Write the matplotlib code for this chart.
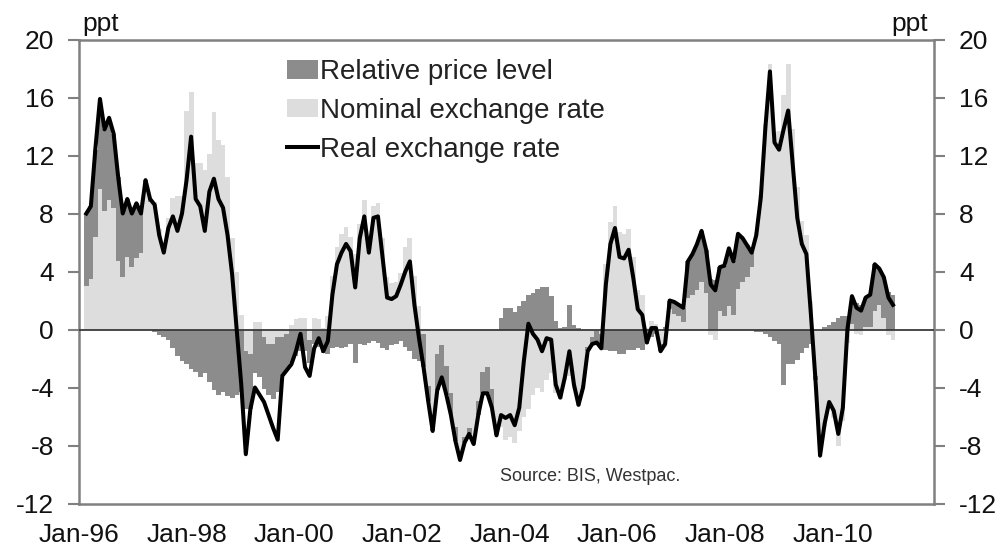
import matplotlib
matplotlib.use("Agg")
import matplotlib.pyplot as plt
from matplotlib.patches import Patch
from matplotlib.lines import Line2D
import numpy as np

plt.rcParams['font.family'] = ['Liberation Sans', 'DejaVu Sans']

# Monthly observations, Jan-1996 .. Oct-2010 (ppt)
real_rate = [
    8.0, 8.5, 12.5, 15.9, 13.8, 14.6, 13.5, 10.5, 8.0, 9.0, 8.0, 8.7,
    8.0, 10.3, 9.0, 8.6, 6.5, 5.3, 7.0, 7.8, 6.8, 8.0, 10.3, 13.3,
    9.0, 8.5, 6.8, 9.5, 10.4, 9.0, 8.4, 6.5, 3.8, 0.0, -3.8, -8.6,
    -5.5, -4.0, -4.5, -5.0, -5.9, -6.8, -7.6, -3.2, -2.8, -2.4, -1.5, -0.3,
    -2.6, -3.2, -1.3, -0.6, -1.5, -0.8, 2.4, 4.5, 5.3, 5.9, 5.4, 2.9,
    6.3, 7.8, 5.3, 7.7, 7.8, 5.0, 2.2, 2.1, 2.3, 3.1, 4.0, 4.7,
    1.7, -0.6, -2.6, -4.9, -7.0, -4.2, -3.3, -4.5, -5.9, -7.7, -9.0, -7.8,
    -7.2, -7.9, -5.9, -4.4, -4.4, -5.4, -7.3, -5.9, -6.1, -5.9, -6.6, -5.4,
    -2.2, 0.4, -0.3, -0.7, -1.5, -0.6, -0.7, -3.8, -4.7, -3.3, -1.5, -3.8,
    -5.2, -4.0, -1.5, -1.0, -0.9, -1.3, 3.1, 5.9, 7.0, 5.0, 4.9, 5.5,
    3.6, 1.4, 1.0, -0.9, 0.1, 0.1, -1.5, -1.0, 2.0, 1.9, 1.7, 1.5,
    4.7, 5.2, 5.9, 6.8, 5.5, 3.1, 2.7, 4.3, 4.4, 5.6, 4.7, 6.6,
    6.3, 5.8, 5.3, 6.5, 9.1, 13.9, 17.8, 12.9, 12.4, 13.8, 15.1, 11.4,
    7.7, 5.9, 5.2, 1.0, -3.5, -8.7, -6.5, -5.0, -5.6, -7.2, -5.4, 0.0,
    2.3, 1.5, 1.3, 2.2, 2.4, 4.5, 4.2, 3.6, 2.2, 1.7,
]

relative_price = [
    5.0, 5.0, 6.0, 6.2, 5.6, 5.7, 5.1, 5.8, 4.4, 4.0, 3.7, 3.8,
    2.7, 0.8, 0.2, -0.2, -0.4, -0.5, -0.7, -1.3, -1.8, -2.2, -2.4, -2.7,
    -2.9, -3.3, -3.0, -3.6, -4.2, -4.5, -4.3, -4.6, -4.7, -4.5, -4.3, -4.0,
    -3.8, -3.0, -3.3, -3.6, -3.5, -3.8, -3.8, -2.7, -2.5, -2.3, -1.8, -1.5,
    -1.5, -1.6, -1.0, -1.2, -1.6, -1.7, -1.3, -1.2, -1.3, -1.2, -1.0, -2.3,
    -1.0, -1.1, -0.9, -0.8, -0.9, -1.3, -1.4, -1.1, -1.0, -0.8, -1.2, -1.5,
    -2.0, -2.2, -2.3, -1.0, -0.5, -2.5, -2.2, -2.0, -1.5, -1.0, -0.6, -0.4,
    -0.4, -0.3, -1.0, -1.5, -1.8, -1.3, -0.2, 0.8, 1.5, 1.5, 1.2, 1.6,
    2.0, 2.4, 2.5, 2.8, 2.9, 2.9, 2.3, 0.6, 0.1, 0.2, 1.7, 0.3,
    0.1, -0.2, -0.3, -0.5, -0.8, -1.0, -1.4, -1.5, -1.5, -1.7, -1.7, -1.4,
    -1.4, -1.3, -1.4, -1.0, -0.5, -0.3, -0.5, 0.2, 0.6, 0.8, 0.8, 1.0,
    2.5, 2.8, 3.2, 3.5, 3.0, 3.5, 3.4, 3.0, 3.5, 4.0, 3.7, 3.8,
    3.0, 2.2, 1.0, -0.2, -0.2, -0.3, -0.5, -0.8, -1.0, -3.8, -2.4, -2.4,
    -2.1, -1.6, -1.3, -1.0, -0.3, 0.0, 0.2, 0.3, 0.5, 0.8, 0.9, 0.9,
    1.9, 1.8, 1.7, 2.0, 2.2, 3.2, 2.5, 2.8, 2.6, 2.4,
]

nominal_rate = [
    3.0, 3.5, 6.4, 9.7, 8.2, 8.9, 8.4, 4.7, 3.6, 5.0, 4.3, 4.9,
    5.3, 9.5, 8.8, 8.8, 6.9, 5.8, 7.7, 9.1, 9.2, 9.2, 15.1, 16.4,
    11.5, 11.5, 11.0, 12.1, 15.0, 13.1, 12.7, 10.5, 6.3, 4.0, 1.0, -1.5,
    -1.7, 0.5, 0.5, -0.5, -1.0, -1.0, -0.5, -0.5, -0.3, 0.3, 0.7, 0.8,
    0.8, -0.7, 0.8, 0.7, 0.1, 0.9, 3.7, 5.7, 6.6, 7.1, 6.4, 5.2,
    7.3, 8.9, 6.2, 8.5, 8.7, 6.3, 3.6, 3.2, 3.3, 3.9, 5.7, 6.3,
    3.7, 1.6, -0.3, -3.9, -6.5, -1.7, -1.1, -2.5, -4.4, -6.7, -8.4, -7.4,
    -6.8, -7.6, -4.9, -2.9, -2.6, -4.1, -7.1, -6.7, -7.6, -7.4, -7.8, -7.0,
    -6.0, -5.5, -4.5, -4.0, -4.3, -3.5, -3.0, -4.4, -4.8, -3.5, -3.2, -4.1,
    -5.3, -3.8, -1.2, -0.5, -0.1, -0.3, 4.5, 7.4, 8.5, 6.7, 6.6, 6.9,
    5.0, 2.7, 2.4, 0.1, 0.6, 0.4, -1.0, -1.2, 1.4, 1.1, 0.9, 0.5,
    2.2, 2.4, 2.7, 3.3, 2.5, -0.4, -0.7, 1.3, 0.9, 1.6, 1.0, 2.8,
    3.3, 3.6, 4.3, 6.7, 9.3, 14.2, 18.3, 13.6, 13.7, 16.2, 18.3, 13.8,
    9.8, 7.5, 6.5, 2.0, -3.2, -8.7, -6.7, -5.3, -6.1, -8.0, -6.3, -0.9,
    0.4, -0.3, -0.4, 0.2, 0.2, 1.3, 1.7, 0.8, -0.4, -0.7,
]

x_labels = ["Jan-96", "Jan-98", "Jan-00", "Jan-02", "Jan-04", "Jan-06", "Jan-08", "Jan-10"]
y_ticks = [-12, -8, -4, 0, 4, 8, 12, 16, 20]
series_names = ["Relative price level", "Nominal exchange rate", "Real exchange rate"]

DARK = "#8c8c8c"
LIGHT = "#dddddd"
SPINE = "#808080"
TEXT = "#111111"

W, H = 1005, 555
fig = plt.figure(figsize=(W / 100, H / 100), dpi=100)
L, R, T, B = 79, 934, 39.5, 503.5
ax = fig.add_axes([L / W, 1 - B / H, (R - L) / W, (B - T) / H])

real = np.array(real_rate)
rel = np.array(relative_price)
nom = np.array(nominal_rate)
x = np.arange(len(real))

ax.bar(x, nom, width=1.05, color=LIGHT, linewidth=0, antialiased=False, zorder=1)
rel_bottom = np.where(np.sign(rel) == np.sign(nom), nom, 0.0)
ax.bar(x, rel, bottom=rel_bottom, width=1.05, color=DARK, linewidth=0,
       antialiased=False, zorder=2)
ax.axhline(0, color="#3a3a3a", lw=1.3, zorder=3)
ax.plot(x, real, color="black", lw=2.9, zorder=4)

ax.set_xlim(-0.5, 186)
ax.set_ylim(-12, 20)
ax.set_yticks(y_ticks)
ax.set_yticklabels([str(v) for v in y_ticks])
tick_pos = np.arange(len(x_labels)) * 23.62 - 1.6
ax.set_xticks(tick_pos)
ax.set_xticklabels(x_labels)

for s in ax.spines.values():
    s.set_color(SPINE)
    s.set_linewidth(1.8)

ax.tick_params(axis="y", direction="out", length=8, width=1.5, color=SPINE,
               left=True, right=True, labelleft=True, labelright=True,
               labelsize=19, labelcolor=TEXT, pad=10)
ax.tick_params(axis="x", length=0, pad=14, labelsize=19, labelcolor=TEXT)

handles = [Patch(facecolor=DARK, edgecolor="none"),
           Patch(facecolor=LIGHT, edgecolor="none"),
           Line2D([0], [0], color="black", lw=2.9)]
leg = ax.legend(handles, series_names, loc="upper left",
                bbox_to_anchor=(287 / W, 1 - 59 / H), bbox_transform=fig.transFigure,
                frameon=False, fontsize=20, handlelength=1.12, handleheight=0.66,
                handletextpad=0.08, labelspacing=0.46, borderpad=0, borderaxespad=0)
for t in leg.get_texts():
    t.set_color("#222222")

fig.text(82 / W, 1 - 31 / H, "ppt", fontsize=19, color=TEXT, ha="left", va="baseline")
fig.text(928 / W, 1 - 31 / H, "ppt", fontsize=19, color=TEXT, ha="right", va="baseline")
fig.text(500 / W, 1 - 481 / H, "Source: BIS, Westpac.", fontsize=13, color="#333333",
         ha="left", va="baseline")

fig.savefig("out.png", dpi=100, facecolor="white")
